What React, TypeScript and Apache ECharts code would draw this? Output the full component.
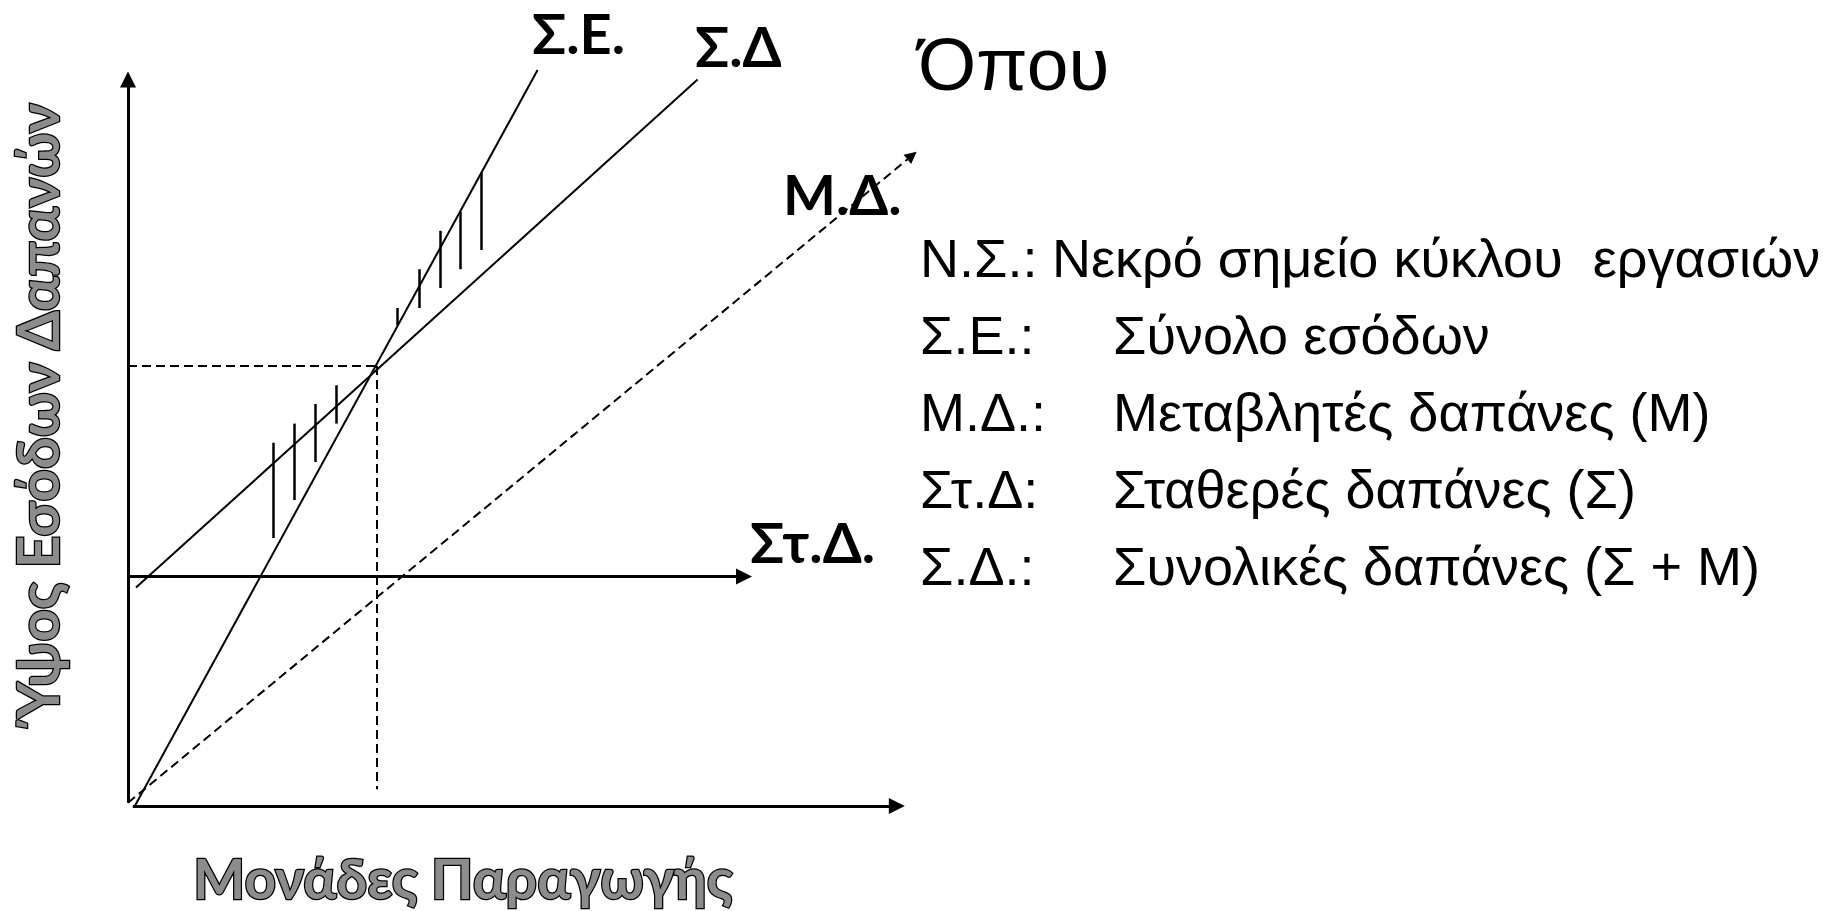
import React, { useEffect, useRef } from "react";
import * as echarts from "echarts";

// Coordinates in abstract chart units (x: 0..100, y: 0..100)
const yAxisLine = [[0, 0.4], [0, 90.8]];
const xAxisLine = [[0.6, 0], [96.1, 0]];
const fixedCostLine = [[0, 28.7], [77.0, 28.7]]; // Στ.Δ.
const totalCostLine = [[1.0, 27.3], [71.2, 90.8]]; // Σ.Δ
const revenueLine = [[0.8, -0.1], [51.2, 92.0]]; // Σ.Ε.
const variableCostLine = [[0, 0.4], [98.0, 81.3]]; // Μ.Δ.
const breakEven = [31.1, 55.0];
const guideBottom = 2.1;

const lossHatchX = [18.2, 20.75, 23.4, 26.0];
const lossHatchTop = [45.4, 47.8, 50.25, 52.6];
const lossHatchBottom = [33.5, 38.25, 43.0, 47.8];
const profitHatchX = [33.7, 36.4, 39.0, 41.5, 44.1];
const profitHatchTop = [62.25, 67.1, 71.9, 74.3, 79.2];
const profitHatchBottom = [60.1, 62.25, 64.75, 67.1, 69.5];

const lineLabels = ["Σ.Ε.", "Σ.Δ", "Μ.Δ.", "Στ.Δ."];
const axisTitleX = "Μονάδες Παραγωγής";
const axisTitleY = "Ύψος Εσόδων Δαπανών";
const legendTitle = "Όπου";
const legendCodes = ["Ν.Σ.:", "Σ.Ε.:", "Μ.Δ.:", "Στ.Δ:", "Σ.Δ.:"];
const legendDescs = [
  "Νεκρό σημείο κύκλου  εργασιών",
  "Σύνολο εσόδων",
  "Μεταβλητές δαπάνες (Μ)",
  "Σταθερές δαπάνες (Σ)",
  "Συνολικές δαπάνες (Σ + Μ)",
];

const seg = (c: number[][]) => ({ coords: c });

const App = () => {
  const ref = useRef<HTMLDivElement>(null);
  useEffect(() => {
    const chart = echarts.init(ref.current as HTMLDivElement, null, { renderer: "svg" });
    const hatches = [
      ...lossHatchX.map((x, i) => seg([[x, lossHatchBottom[i]], [x, lossHatchTop[i]]])),
      ...profitHatchX.map((x, i) => seg([[x, profitHatchBottom[i]], [x, profitHatchTop[i]]])),
    ];
    const guides = [
      seg([[0, breakEven[1]], [breakEven[0], breakEven[1]]]),
      seg([[breakEven[0], breakEven[1]], [breakEven[0], guideBottom]]),
    ];
    const boldFont = 'bold 56px Lato, "Open Sans", sans-serif';
    const sansFont = '"Liberation Sans", Arial, sans-serif';
    const labelPos = [
      [532, 32],
      [695, 45],
      [783, 193],
      [750, 541],
    ];
    const titleStyle = {
      fill: "#8c8c8c",
      stroke: "#000",
      lineWidth: 2.5,
      shadowBlur: 4,
      shadowColor: "rgba(0,0,0,0.45)",
      shadowOffsetX: 2,
      shadowOffsetY: 2,
      textAlign: "center",
      align: "center",
      textVerticalAlign: "middle",
      verticalAlign: "middle",
    };
    const rowY = [258, 335, 412, 489, 566];
    const graphic: any[] = [
      ...lineLabels.map((t, i) => ({
        type: "text",
        x: labelPos[i][0],
        y: labelPos[i][1],
        style: {
          text: t,
          font: boldFont,
          lineHeight: 46,
          fill: "#000",
          textVerticalAlign: "middle",
          verticalAlign: "middle",
        },
      })),
      {
        type: "text",
        x: 463,
        y: 878,
        style: { ...titleStyle, font: 'bold 55px Lato, "Open Sans", sans-serif', text: axisTitleX },
      },
      {
        type: "text",
        x: 37,
        y: 411,
        rotation: Math.PI / 2,
        style: { ...titleStyle, font: 'bold 57px Lato, "Open Sans", sans-serif', text: axisTitleY },
      },
      {
        type: "text",
        x: 918,
        y: 64,
        style: { text: legendTitle, font: `75px ${sansFont}`, fill: "#000", textVerticalAlign: "middle", verticalAlign: "middle" },
      },
      ...legendCodes.map((c, i) => ({
        type: "text",
        x: 920,
        y: rowY[i],
        style: { text: c, font: `54px ${sansFont}`, fill: "#000", textVerticalAlign: "middle", verticalAlign: "middle" },
      })),
      ...legendDescs.map((d, i) => ({
        type: "text",
        x: i === 0 ? 1052 : 1113,
        y: rowY[i],
        style: { text: d, font: `54px ${sansFont}`, fill: "#000", textVerticalAlign: "middle", verticalAlign: "middle" },
      })),
    ];
    chart.setOption({
      animation: false,
      backgroundColor: "#fff",
      grid: { left: 128, top: 6, width: 800, height: 800 },
      xAxis: { type: "value", min: 0, max: 100, show: false },
      yAxis: { type: "value", min: 0, max: 100, show: false },
      series: [
        {
          type: "lines",
          coordinateSystem: "cartesian2d",
          clip: false,
          symbol: ["none", "triangle"],
          symbolSize: 16,
          lineStyle: { color: "#000", width: 3, opacity: 1, curveness: 0 },
          itemStyle: { color: "#000" },
          data: [seg(yAxisLine), seg(xAxisLine), seg(fixedCostLine)],
        },
        {
          type: "lines",
          coordinateSystem: "cartesian2d",
          clip: false,
          symbol: ["none", "triangle"],
          symbolSize: 12,
          lineStyle: { color: "#000", width: 2, opacity: 1, type: [9, 5] },
          itemStyle: { color: "#000" },
          data: [seg(variableCostLine)],
        },
        {
          type: "lines",
          coordinateSystem: "cartesian2d",
          clip: false,
          symbol: "none",
          lineStyle: { color: "#000", width: 2, opacity: 1 },
          data: [seg(totalCostLine), seg(revenueLine)],
        },
        {
          type: "lines",
          coordinateSystem: "cartesian2d",
          clip: false,
          symbol: "none",
          lineStyle: { color: "#000", width: 2.5, opacity: 1 },
          data: hatches,
        },
        {
          type: "lines",
          coordinateSystem: "cartesian2d",
          clip: false,
          symbol: "none",
          lineStyle: { color: "#000", width: 2, opacity: 1, type: [9, 5] },
          data: guides,
        },
      ],
      graphic,
    });
    return () => chart.dispose();
  }, []);
  return (
    <div
      ref={ref}
      style={{ position: "absolute", left: 0, top: 0, width: 1827, height: 911, background: "#fff" }}
    />
  );
};

export default App;
